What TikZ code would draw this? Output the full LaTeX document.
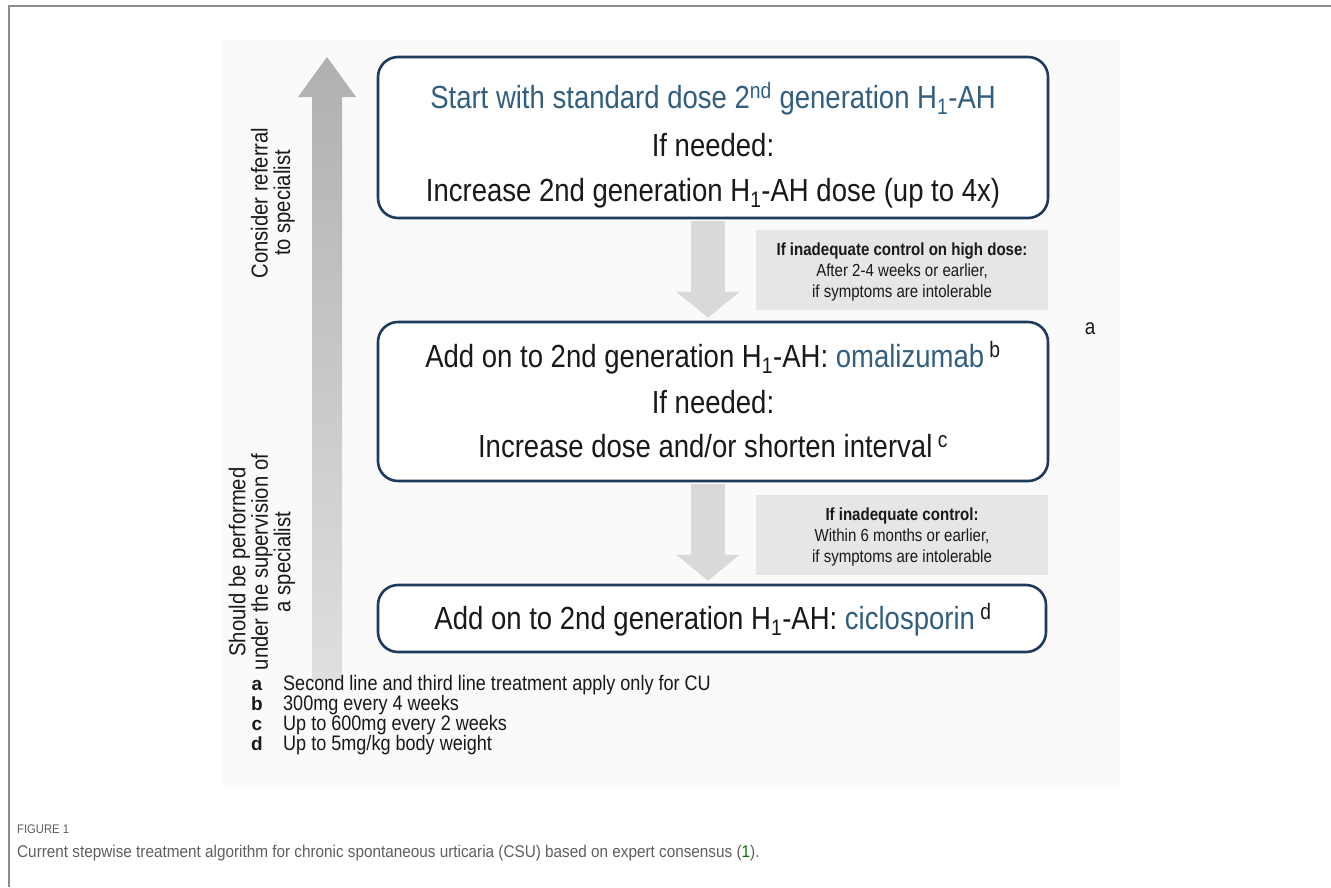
\documentclass[tikz,border=0pt]{standalone}
\usepackage{fontspec}
\setmainfont[FakeStretch=0.86]{Liberation Sans}
\newfontfamily\letterfont{Liberation Sans}
\newfontfamily\sidefont[FakeStretch=0.88]{Liberation Sans}
\newfontfamily\capfont[FakeStretch=0.9]{Liberation Sans}
\usetikzlibrary{arrows.meta}
\definecolor{navy}{RGB}{30,58,92}
\definecolor{bluetxt}{RGB}{50,95,128}
\definecolor{arrowlight}{RGB}{217,217,217}
\definecolor{notefill}{RGB}{230,230,230}
\definecolor{capgray}{RGB}{95,95,95}
\definecolor{framegray}{RGB}{140,140,140}
\definecolor{panel}{RGB}{250,250,250}
\definecolor{txt}{RGB}{25,25,25}
\tikzset{
  stepbox/.style={draw=navy, line width=2.6pt, rounded corners=20pt, fill=white},
  maintext/.style={anchor=base, text=txt, font=\fontsize{32}{36}\selectfont, inner sep=0pt},
  notebox/.style={fill=notefill, draw=none},
  notetext/.style={align=center, text=txt, font=\fontsize{17.5}{21}\selectfont, inner sep=0pt},
  downarrow/.style={draw=arrowlight, line width=34pt, -{Triangle[width=62pt, length=26pt]}},
  sidetext/.style={rotate=90, align=center, text=txt, font=\sidefont\fontsize{23}{22.5}\selectfont, inner sep=0pt},
  fnletter/.style={anchor=base, font=\letterfont\bfseries\fontsize{19}{20}\selectfont, text=txt, inner sep=0pt},
  fntext/.style={anchor=base west, font=\fontsize{21}{20}\selectfont, text=txt, inner sep=0pt}
}
\begin{document}
\begin{tikzpicture}[x=1pt,y=-1pt]
\useasboundingbox (0,0) rectangle (1331,887);
\draw[framegray, line width=1.5pt] (9,887) -- (9,6) -- (1331,6);
\fill[panel] (222,40) rectangle (1120,785);

% big shaded arrow
\shade[top color=gray!62, bottom color=gray!25]
  (312,680) -- (312,97) -- (298,97) -- (327,57) -- (356,97) -- (342,97) -- (342,680) -- cycle;

% side texts
\node[sidetext] (side1) at (273,203) {Consider referral\\to specialist};
\node[sidetext] (side2) at (262,562) {Should be performed\\under the supervision of\\a specialist};

% boxes
\node[stepbox, minimum width=670pt, minimum height=161pt] (b1) at (713,137.5) {};
\node[stepbox, minimum width=670pt, minimum height=159pt] (b2) at (713,401.5) {};
\node[stepbox, minimum width=668pt, minimum height=67pt] (b3) at (712,618.5) {};

\node[maintext, text=bluetxt] (t1a) at (713,108) {Start with standard dose 2\textsuperscript{nd} generation H\textsubscript{1}-AH};
\node[maintext] (t1b) at (713,156) {If needed:};
\node[maintext] (t1c) at (713,201) {Increase 2nd generation H\textsubscript{1}-AH dose (up to 4x)};

\node[maintext] (t2a) at (713,367) {Add on to 2nd generation H\textsubscript{1}-AH: \textcolor{bluetxt}{omalizumab}\,\textsuperscript{b}};
\node[maintext] (t2b) at (713,413) {If needed:};
\node[maintext] (t2c) at (713,457) {Increase dose and/or shorten interval\,\textsuperscript{c}};

\node[maintext] (t3a) at (713,629) {Add on to 2nd generation H\textsubscript{1}-AH: \textcolor{bluetxt}{ciclosporin}\,\textsuperscript{d}};

\node[anchor=base, text=txt, font=\fontsize{22}{22}\selectfont, inner sep=0pt] (la) at (1090,334) {a};

% down arrows
\coordinate (a1s) at (708,221);
\coordinate (a2s) at (708,484);
\draw[downarrow] (a1s) -- ([yshift=3pt]b2.north -| a1s);
\draw[downarrow] (a2s) -- ([yshift=3pt]b3.north -| a2s);

% note boxes
\node[notebox, minimum width=292pt, minimum height=80pt] (n1) at (902,270) {};
\node[notetext] (n1t) at ([yshift=-2pt]n1.center) {\textbf{If inadequate control on high dose:}\\After 2-4 weeks or earlier,\\if symptoms are intolerable};
\node[notebox, minimum width=292pt, minimum height=80pt] (n2) at (902,535) {};
\node[notetext] (n2t) at ([yshift=-2pt]n2.center) {\textbf{If inadequate control:}\\Within 6 months or earlier,\\if symptoms are intolerable};

% footnotes
\node[fnletter] (fa) at (257,690) {a};
\node[fntext] (fat) at (283,690) {Second line and third line treatment apply only for CU};
\node[fnletter] (fb) at (257,710) {b};
\node[fntext] (fbt) at (283,710) {300mg every 4 weeks};
\node[fnletter] (fc) at (257,730) {c};
\node[fntext] (fct) at (283,730) {Up to 600mg every 2 weeks};
\node[fnletter] (fd) at (257,750) {d};
\node[fntext] (fdt) at (283,750) {Up to 5mg/kg body weight};

% caption
\node[anchor=base west, inner sep=0pt, text=capgray, font=\capfont\fontsize{12.5}{14}\selectfont] (fig) at (17,833) {FIGURE 1};
\node[anchor=base west, inner sep=0pt, text=capgray, font=\capfont\fontsize{17}{18}\selectfont] (cap) at (17,857) {Current stepwise treatment algorithm for chronic spontaneous urticaria (CSU) based on expert consensus (\textcolor{green!45!black}{1}).};
\end{tikzpicture}
\end{document}
